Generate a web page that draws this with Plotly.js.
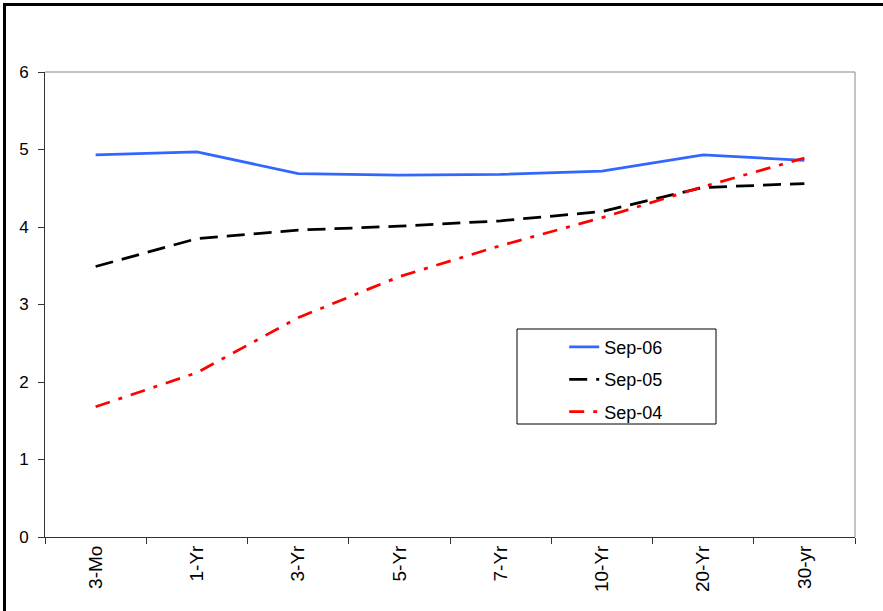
<!DOCTYPE html>
<html>
<head>
<meta charset="utf-8">
<script src="https://cdn.plot.ly/plotly-3.0.1.min.js"></script>
<style>
  html, body { margin: 0; padding: 0; background: #fff; }
  #wrap { position: relative; width: 883px; height: 611px; }
  #chart { width: 883px; height: 611px; }
  #frame { position: absolute; left: 3px; top: 3px; width: 890px; height: 620px;
           border-left: 3px solid #000; border-top: 3px solid #000; pointer-events: none; }
</style>
</head>
<body>
<div id="wrap">
  <div id="chart"></div>
  <div id="frame"></div>
</div>
<script>
const categories = ['3-Mo', '1-Yr', '3-Yr', '5-Yr', '7-Yr', '10-Yr', '20-Yr', '30-yr'];
const sep06 = [4.93, 4.97, 4.69, 4.67, 4.68, 4.72, 4.93, 4.86];
const sep05 = [3.49, 3.85, 3.96, 4.01, 4.08, 4.20, 4.51, 4.56];
const sep04 = [1.68, 2.12, 2.83, 3.36, 3.76, 4.12, 4.52, 4.89];
const seriesNames = ['Sep-06', 'Sep-05', 'Sep-04'];
const yTicks = [0, 1, 2, 3, 4, 5, 6];

const traces = [
  { x: categories, y: sep06, name: seriesNames[0], legendgroup: 'a', type: 'scatter', mode: 'lines',
    line: { color: '#3366FF', width: 2.75 } },
  { x: categories, y: sep05, name: seriesNames[1], legendgroup: 'b', type: 'scatter', mode: 'lines',
    line: { color: '#000000', width: 2.75, dash: '18px,9px' } },
  { x: categories, y: sep04, name: seriesNames[2], legendgroup: 'c', type: 'scatter', mode: 'lines',
    line: { color: '#FF0000', width: 2.75, dash: '15px,9px,4px,9px' } }
];

const layout = {
  width: 883, height: 611,
  margin: { l: 45, r: 28, t: 72, b: 74 },
  paper_bgcolor: '#ffffff', plot_bgcolor: '#ffffff',
  font: { family: 'Liberation Sans, Arial, sans-serif', color: '#000' },
  showlegend: true,
  legend: {
    x: 0.641, y: 0.448, xanchor: 'left', yanchor: 'top',
    bgcolor: 'rgba(0,0,0,0)', borderwidth: 0,
    font: { size: 18, color: '#000' },
    traceorder: 'grouped', tracegroupgap: 6
  },
  xaxis: {
    type: 'category', categoryorder: 'array', categoryarray: categories,
    range: [-0.5, 7.5], tickson: 'boundaries',
    ticks: 'outside', ticklen: 6, tickcolor: '#333', tickwidth: 1,
    showline: true, linecolor: '#333', linewidth: 1,
    showgrid: false, zeroline: false, tickangle: -90,
    tickfont: { size: 19, color: '#000' }
  },
  yaxis: {
    range: [0, 6], tickvals: yTicks, ticktext: yTicks.map(String),
    ticks: 'outside', ticklen: 6, tickcolor: '#333', tickwidth: 1,
    showline: true, linecolor: '#333', linewidth: 1,
    showgrid: false, zeroline: false, ticklabelstandoff: 6,
    tickfont: { size: 17, color: '#000' }
  },
  shapes: [
    { type: 'line', xref: 'paper', yref: 'paper', x0: 0, x1: 1, y0: 1, y1: 1,
      line: { color: '#888', width: 1 } },
    { type: 'line', xref: 'paper', yref: 'paper', x0: 1, x1: 1, y0: 0, y1: 1,
      line: { color: '#888', width: 1 } },
    { type: 'rect', xref: 'paper', yref: 'paper',
      x0: (517 - 45) / 810, x1: (716 - 45) / 810,
      y0: (537 - 424) / 465, y1: (537 - 329) / 465,
      line: { color: '#000', width: 1 }, fillcolor: 'rgba(0,0,0,0)' }
  ]
};

Plotly.newPlot('chart', traces, layout, { staticPlot: true, displayModeBar: false });
</script>
</body>
</html>
